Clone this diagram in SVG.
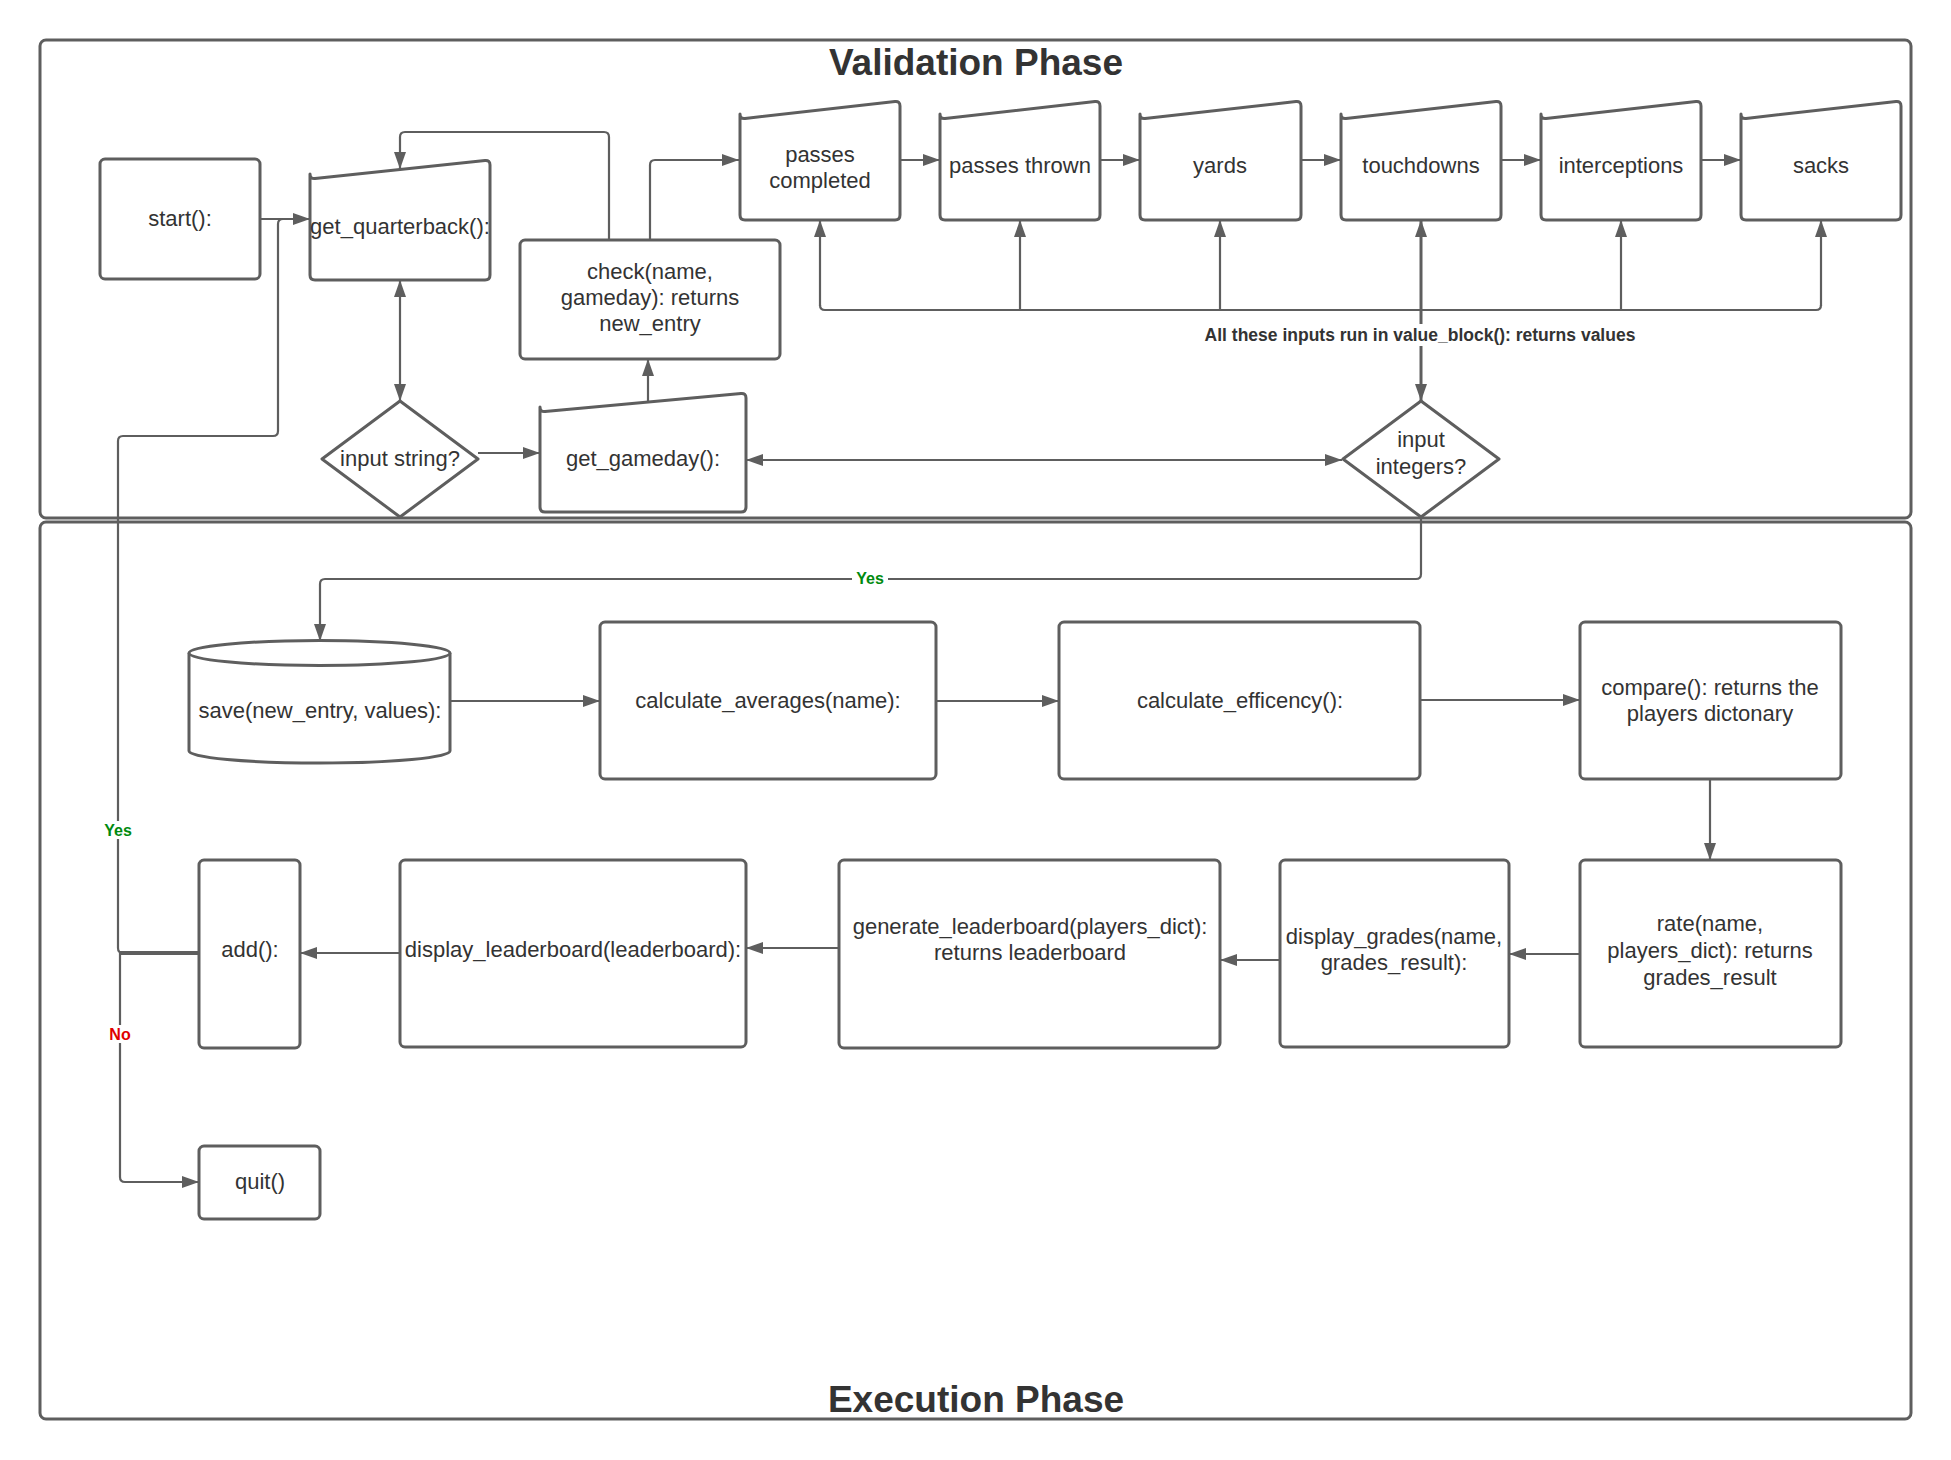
<svg xmlns="http://www.w3.org/2000/svg" width="1951" height="1460" viewBox="0 0 1951 1460">
<style>
.frame{fill:none;stroke:#5e5e5e;stroke-width:3}
.node{fill:#fff;stroke:#5e5e5e;stroke-width:3;stroke-linejoin:round}
.t{font-family:"Liberation Sans",Arial,sans-serif;font-size:22px;fill:#333;text-anchor:middle}
.title{font-size:37px;font-weight:bold}
.c{fill:none;stroke:#5e5e5e;stroke-width:2.2;stroke-linejoin:round}
.ae{marker-end:url(#ah)}
.ab{marker-start:url(#ah);marker-end:url(#ah)}
.lbl{font-family:"Liberation Sans",Arial,sans-serif;font-size:16px;font-weight:bold;text-anchor:middle}
.bg{fill:#fff}
</style>
<defs>
<marker id="ah" markerUnits="userSpaceOnUse" markerWidth="17" markerHeight="12" refX="17" refY="6" orient="auto-start-reverse">
<path d="M0,0 L17,6 L0,12 z" fill="#5e5e5e"/>
</marker>
</defs>
<rect width="1951" height="1460" fill="#fff"/>

<g id="validation-phase">
<rect class="frame" x="40" y="40" width="1871" height="478" rx="6"/>
<text class="t title" x="976" y="75">Validation Phase</text>
</g>
<g id="execution-phase">
<rect class="frame" x="40" y="522" width="1871" height="897" rx="6"/>
<text class="t title" x="976" y="1412">Execution Phase</text>
</g>

<g id="connectors">
<path class="c ae" d="M260,219 H310"/>
<path class="c" d="M199,953 H123 Q118,953 118,948 V441 Q118,436 123,436 H273 Q278,436 278,431 V224 Q278,219 283,219 H300"/>
<path class="c" d="M120,953 H199" style="stroke-width:4"/>
<path class="c ae" d="M120,953 V1177 Q120,1182 125,1182 H199"/>
<path class="c ab" d="M400,280 V401"/>
<path class="c ae" d="M478,453 H540"/>
<path class="c ae" d="M648,402 V359"/>
<path class="c ab" d="M746,460 H1342"/>
<path class="c ae" d="M650,240 V165 Q650,160 655,160 H739"/>
<path class="c ae" d="M609,240 V137 Q609,132 604,132 H405 Q400,132 400,137 V169"/>
<path class="c ae" d="M900,160 H940"/>
<path class="c ae" d="M1100,160 H1140"/>
<path class="c ae" d="M1301,160 H1341"/>
<path class="c ae" d="M1501,160 H1541"/>
<path class="c ae" d="M1701,160 H1741"/>
<path class="c" d="M820,305 Q820,310 825,310 H1816 Q1821,310 1821,305"/>
<path class="c ae" d="M820,306 V220"/>
<path class="c ae" d="M1020,310 V220"/>
<path class="c ae" d="M1220,310 V220"/>
<path class="c ae" d="M1621,310 V220"/>
<path class="c ae" d="M1821,306 V220"/>
<path class="c ab" d="M1421,401 V220" style="stroke-width:3"/>
<path class="c ae" d="M1421,517 V574 Q1421,579 1416,579 H325 Q320,579 320,584 V641"/>
<path class="c ae" d="M450,701 H600"/>
<path class="c ae" d="M936,701 H1059"/>
<path class="c ae" d="M1420,700 H1580"/>
<path class="c ae" d="M1710,779 V860"/>
<path class="c ae" d="M1580,954 H1509"/>
<path class="c ae" d="M1280,960 H1220"/>
<path class="c ae" d="M839,948 H746"/>
<path class="c ae" d="M400,953 H300"/>
<rect class="bg" x="1195" y="324" width="450" height="22"/>
<text class="lbl" x="1420" y="341" fill="#333" style="font-size:17.5px">All these inputs run in value_block(): returns values</text>
<rect class="bg" x="852" y="570" width="36" height="17"/>
<text class="lbl" x="870" y="584" fill="#008a0e">Yes</text>
<rect class="bg" x="100" y="821" width="36" height="18"/>
<text class="lbl" x="118" y="836" fill="#008a0e">Yes</text>
<rect class="bg" x="106" y="1025" width="28" height="18"/>
<text class="lbl" x="120" y="1040" fill="#e00000">No</text>
</g>

<g id="start">
<rect class="node" x="100" y="159" width="160" height="120" rx="5"/>
<text class="t" x="180" y="226">start():</text>
</g>
<g id="get_quarterback">
<path class="node" d="M310,174 Q310,179 315,178.5 L485,160.5 Q490,160 490,165 L490,275 Q490,280 485,280 L315,280 Q310,280 310,275 Z"/>
<text class="t" x="400" y="234">get_quarterback():</text>
</g>
<g id="check">
<rect class="node" x="520" y="240" width="260" height="119" rx="5"/>
<text class="t" x="650" y="279">check(name,</text>
<text class="t" x="650" y="305">gameday): returns</text>
<text class="t" x="650" y="331">new_entry</text>
</g>
<g id="input_string">
<path class="node" d="M400,401 L478,459 L400,517 L322,459 Z"/>
<text class="t" x="400" y="466">input string?</text>
</g>
<g id="get_gameday">
<path class="node" d="M540,407 Q540,412 545,411.5 L741,393.5 Q746,393 746,398 L746,507 Q746,512 741,512 L545,512 Q540,512 540,507 Z"/>
<text class="t" x="643" y="466">get_gameday():</text>
</g>
<g id="input_integers">
<path class="node" d="M1421,401 L1499,459 L1421,517 L1343,459 Z"/>
<text class="t" x="1421" y="447">input</text>
<text class="t" x="1421" y="474">integers?</text>
</g>
<g id="passes_completed">
<path class="node" d="M740,114 Q740,119 745,118.4 L895,101.6 Q900,101 900,106 L900,215 Q900,220 895,220 L745,220 Q740,220 740,215 Z"/>
<text class="t" x="820" y="162">passes</text>
<text class="t" x="820" y="188">completed</text>
</g>
<g id="passes_thrown">
<path class="node" d="M940,114 Q940,119 945,118.4 L1095,101.6 Q1100,101 1100,106 L1100,215 Q1100,220 1095,220 L945,220 Q940,220 940,215 Z"/>
<text class="t" x="1020" y="173">passes thrown</text>
</g>
<g id="yards">
<path class="node" d="M1140,114 Q1140,119 1145,118.4 L1296,101.6 Q1301,101 1301,106 L1301,215 Q1301,220 1296,220 L1145,220 Q1140,220 1140,215 Z"/>
<text class="t" x="1220" y="173">yards</text>
</g>
<g id="touchdowns">
<path class="node" d="M1341,114 Q1341,119 1346,118.4 L1496,101.6 Q1501,101 1501,106 L1501,215 Q1501,220 1496,220 L1346,220 Q1341,220 1341,215 Z"/>
<text class="t" x="1421" y="173">touchdowns</text>
</g>
<g id="interceptions">
<path class="node" d="M1541,114 Q1541,119 1546,118.4 L1696,101.6 Q1701,101 1701,106 L1701,215 Q1701,220 1696,220 L1546,220 Q1541,220 1541,215 Z"/>
<text class="t" x="1621" y="173">interceptions</text>
</g>
<g id="sacks">
<path class="node" d="M1741,114 Q1741,119 1746,118.4 L1896,101.6 Q1901,101 1901,106 L1901,215 Q1901,220 1896,220 L1746,220 Q1741,220 1741,215 Z"/>
<text class="t" x="1821" y="173">sacks</text>
</g>

<g id="save">
<path class="node" d="M189,653 V751 A130.5,12 0 0 0 450,751 V653"/>
<ellipse class="node" cx="319.5" cy="653" rx="130.5" ry="12.5"/>
<text class="t" x="320" y="718">save(new_entry, values):</text>
</g>
<g id="calculate_averages">
<rect class="node" x="600" y="622" width="336" height="157" rx="5"/>
<text class="t" x="768" y="708">calculate_averages(name):</text>
</g>
<g id="calculate_efficency">
<rect class="node" x="1059" y="622" width="361" height="157" rx="5"/>
<text class="t" x="1240" y="708">calculate_efficency():</text>
</g>
<g id="compare">
<rect class="node" x="1580" y="622" width="261" height="157" rx="5"/>
<text class="t" x="1710" y="695">compare(): returns the</text>
<text class="t" x="1710" y="721">players dictonary</text>
</g>
<g id="rate">
<rect class="node" x="1580" y="860" width="261" height="187" rx="5"/>
<text class="t" x="1710" y="931">rate(name,</text>
<text class="t" x="1710" y="958">players_dict): returns</text>
<text class="t" x="1710" y="985">grades_result</text>
</g>
<g id="display_grades">
<rect class="node" x="1280" y="860" width="229" height="187" rx="5"/>
<text class="t" x="1394" y="944">display_grades(name,</text>
<text class="t" x="1394" y="970">grades_result):</text>
</g>
<g id="generate_leaderboard">
<rect class="node" x="839" y="860" width="381" height="188" rx="5"/>
<text class="t" x="1030" y="934">generate_leaderboard(players_dict):</text>
<text class="t" x="1030" y="960">returns leaderboard</text>
</g>
<g id="display_leaderboard">
<rect class="node" x="400" y="860" width="346" height="187" rx="5"/>
<text class="t" x="573" y="957">display_leaderboard(leaderboard):</text>
</g>
<g id="add">
<rect class="node" x="199" y="860" width="101" height="188" rx="5"/>
<text class="t" x="250" y="957">add():</text>
</g>
<g id="quit">
<rect class="node" x="199" y="1146" width="121" height="73" rx="5"/>
<text class="t" x="260" y="1189">quit()</text>
</g>
</svg>
